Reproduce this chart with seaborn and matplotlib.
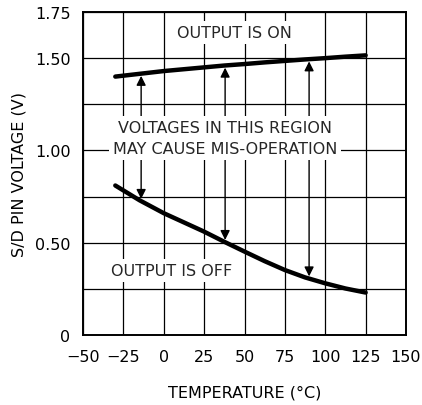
import numpy as np
import seaborn as sns
import matplotlib.pyplot as plt

# temperature (deg C) and S/D pin threshold voltages
temp = [-30, -15, 0, 12.5, 25, 37.5, 50, 62.5, 75, 87.5, 100, 112.5, 125]
v_on = [1.40, 1.415, 1.43, 1.44, 1.45, 1.46, 1.468, 1.477, 1.485, 1.493, 1.50, 1.508, 1.515]
v_off = [0.81, 0.73, 0.66, 0.61, 0.56, 0.505, 0.452, 0.40, 0.352, 0.312, 0.28, 0.252, 0.23]

arrow_temps = [-14, 38, 90]

x_ticks = [-50, -25, 0, 25, 50, 75, 100, 125, 150]
y_ticks = [0, 0.25, 0.5, 0.75, 1.0, 1.25, 1.5, 1.75]
y_tick_labels = ['0', '', '0.50', '', '1.00', '', '1.50', '1.75']

sns.set_style("white")
plt.rcParams['font.family'] = ['DejaVu Sans']
plt.rcParams['axes.unicode_minus'] = True

fig = plt.figure(figsize=(4.22, 4.06), dpi=100)
ax = fig.add_axes([83 / 422, 70 / 406, 323 / 422, 323 / 406])

sns.lineplot(x=temp, y=v_on, color='black', linewidth=3.2, ax=ax, zorder=3)
sns.lineplot(x=temp, y=v_off, color='black', linewidth=3.2, ax=ax, zorder=3)

ax.set_xlim(-50, 150)
ax.set_ylim(0, 1.75)
ax.set_xticks(x_ticks)
ax.set_yticks(y_ticks)
ax.set_yticklabels(y_tick_labels)
ax.grid(True, color='black', linewidth=0.9)
ax.set_axisbelow(True)
ax.tick_params(length=0, labelsize=11.5, colors='black')
ax.tick_params(axis='x', pad=10)
ax.tick_params(axis='y', pad=9)
for s in ax.spines.values():
    s.set_color('black')
    s.set_linewidth(1.4)

ax.set_xlabel('TEMPERATURE (°C)', fontsize=11.5, labelpad=15, color='black')
ax.set_ylabel('S/D PIN VOLTAGE (V)', fontsize=11.5, labelpad=6, color='black')

# arrows from the middle text block to the two curves
for t in arrow_temps:
    top = np.interp(t, temp, v_on) - 0.012
    bot = np.interp(t, temp, v_off) + 0.012
    for tip in (top, bot):
        ax.annotate('', xy=(t, tip), xytext=(t, 1.07),
                    arrowprops=dict(arrowstyle='-|>', color='black', lw=1,
                                    mutation_scale=14, shrinkA=0, shrinkB=0),
                    zorder=2)

box = dict(facecolor='white', edgecolor='none', pad=3)
ax.text(43.5, 1.64, 'OUTPUT IS ON', ha='center', va='center',
        fontsize=11.5, bbox=box, zorder=4)
ax.text(38, 1.068, 'VOLTAGES IN THIS REGION\nMAY CAUSE MIS-OPERATION',
        ha='center', va='center', multialignment='center', linespacing=1.45,
        fontsize=11.5, bbox=box, zorder=4)
ax.text(5, 0.35, 'OUTPUT IS OFF', ha='center', va='center',
        fontsize=11.5, bbox=box, zorder=4)

fig.savefig('out.png', dpi=100)
